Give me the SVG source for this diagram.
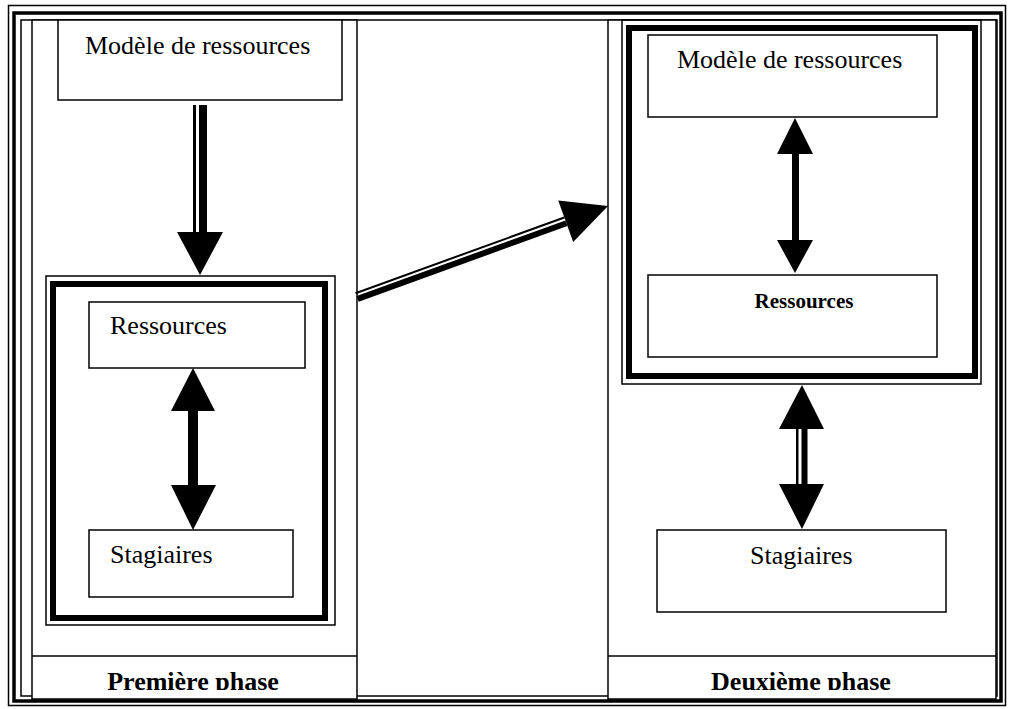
<svg xmlns="http://www.w3.org/2000/svg" width="1009" height="709" viewBox="0 0 1009 709">
<style>
.t{font-family:"Liberation Serif","Times New Roman",serif;font-size:26px;fill:#000}
.b{font-weight:bold}
.box{fill:#fff;stroke:#000;stroke-width:1.5}
.ln{fill:none;stroke:#000}
</style>
<defs>
<clipPath id="cl"><rect x="0" y="656" width="1009" height="34"/></clipPath>
</defs>
<rect width="1009" height="709" fill="#fff"/>
<g id="frame" class="ln">
<rect x="8.5" y="5.5" width="997" height="700" stroke-width="1.5"/>
<rect x="14" y="13" width="987" height="688" stroke-width="3.5"/>
<rect x="21" y="20" width="976" height="676" stroke-width="1.5"/>
</g>
<g id="phase1">
<rect x="32" y="20" width="325" height="679" class="box"/>
<line x1="32" y1="656" x2="357" y2="656" class="ln" stroke-width="1.5"/>
<text x="193" y="690" class="t b" text-anchor="middle" clip-path="url(#cl)">Première phase</text>
</g>
<g id="phase2">
<rect x="608" y="20" width="388" height="679" class="box"/>
<line x1="608" y1="656" x2="996" y2="656" class="ln" stroke-width="1.5"/>
<text x="801" y="690" class="t b" text-anchor="middle" clip-path="url(#cl)">Deuxième phase</text>
</g>
<g id="modele1">
<rect x="58" y="20" width="284" height="80" class="box"/>
<text x="85" y="54" class="t">Modèle de ressources</text>
</g>
<g id="cadre1" class="ln">
<rect x="46" y="276" width="289" height="349" stroke-width="1.5"/>
<rect x="53" y="284" width="272" height="334" stroke-width="6"/>
</g>
<g id="ressources1">
<rect x="89" y="302" width="216" height="66" class="box"/>
<text x="110" y="334" class="t">Ressources</text>
</g>
<g id="stagiaires1">
<rect x="89" y="530" width="204" height="67" class="box"/>
<text x="110" y="563" class="t">Stagiaires</text>
</g>
<g id="cadre2" class="ln">
<rect x="622" y="20" width="359" height="364" stroke-width="1.5"/>
<rect x="629" y="28" width="346" height="348" stroke-width="6"/>
</g>
<g id="modele2">
<rect x="648" y="35" width="289" height="82" class="box"/>
<text x="677" y="68" class="t">Modèle de ressources</text>
</g>
<g id="ressources2">
<rect x="648" y="275" width="289" height="82" class="box"/>
<text x="804" y="308" class="t b" text-anchor="middle" style="font-size:21px">Ressources</text>
</g>
<g id="stagiaires2">
<rect x="657" y="530" width="289" height="82" class="box"/>
<text x="750" y="564" class="t">Stagiaires</text>
</g>
<g id="connectors" fill="#000">
<rect x="193" y="105" width="3" height="128"/>
<rect x="199" y="105" width="8" height="128"/>
<polygon points="177,232 223,232 200,275"/>
<rect x="188" y="408" width="10" height="80"/>
<polygon points="193,368 171,411 215,411"/>
<polygon points="193,530 171,485 216,485"/>
<line x1="355.6" y1="293.2" x2="564.3" y2="217.5" stroke="#000" stroke-width="2"/>
<line x1="357.7" y1="298.9" x2="566.4" y2="223.2" stroke="#000" stroke-width="6"/>
<polygon points="608,206 558.2,200.6 573.2,242"/>
<rect x="792" y="150" width="7" height="93"/>
<polygon points="795,118 777,154 813,154"/>
<polygon points="795,273 777,240 813,240"/>
<rect x="796" y="427" width="2.5" height="60"/>
<rect x="801.5" y="427" width="6" height="60"/>
<polygon points="802,385 779,429 824,429"/>
<polygon points="802,529 779,484 824,484"/>
</g>
</svg>
